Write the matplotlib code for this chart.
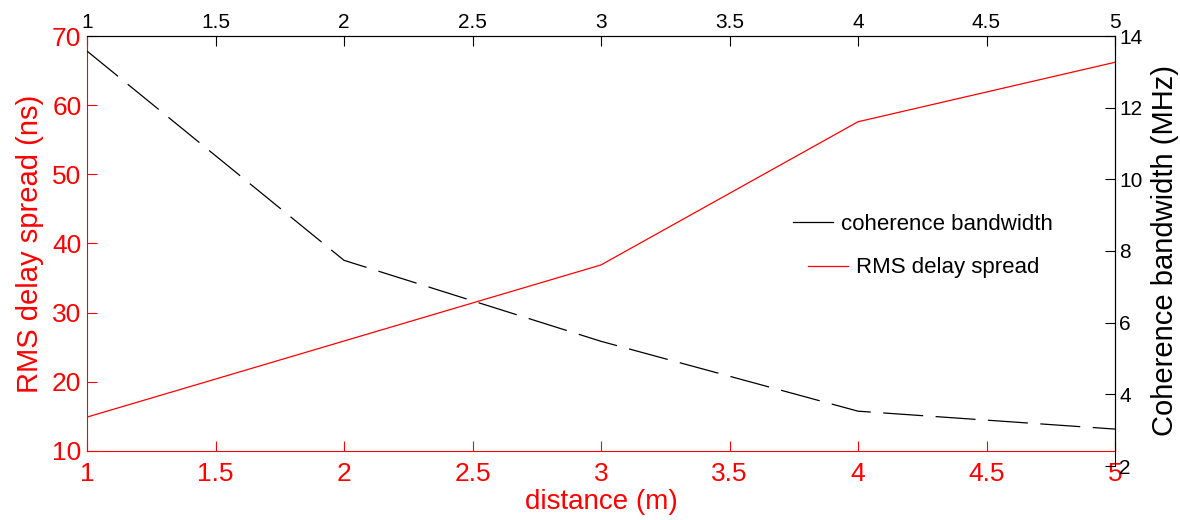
import matplotlib
matplotlib.use('Agg')
import matplotlib.pyplot as plt
import numpy as np

matplotlib.rcParams['font.family'] = ['Liberation Sans', 'DejaVu Sans']

# measured values per distance
distance      = [1, 2, 3, 4, 5]
rms_delay     = [14.9, 25.9, 36.9, 57.6, 66.2]   # ns
coherence_bw  = [13.58, 7.74, 5.48, 3.53, 3.03]  # MHz

x_ticks     = [1, 1.5, 2, 2.5, 3, 3.5, 4, 4.5, 5]
x_labels    = ['1', '1.5', '2', '2.5', '3', '3.5', '4', '4.5', '5']
left_ticks  = [10, 20, 30, 40, 50, 60, 70]
right_ticks = [2, 4, 6, 8, 10, 12, 14]


def plot_figure():
    fig = plt.figure(figsize=(11.8, 5.2), dpi=100)
    ax = fig.add_axes([87/1180, 69/520, 1028/1180, 415/520])
    # right-hand axes runs a little lower than the left one
    ax2 = fig.add_axes([87/1180, 54/520, 1028/1180, 430/520], sharex=ax)
    ax2.patch.set_visible(False)

    red = '#ff0000'

    l_rms, = ax.plot(distance, rms_delay, color=red, lw=0.9)
    l_coh, = ax2.plot(distance, coherence_bw, color='black', lw=0.9)
    l_coh.set_dashes((32, 10))

    ax.set_xlim(1, 5)
    ax.set_ylim(10, 70)
    ax2.set_ylim(2, 14)
    ax.set_xticks(x_ticks)
    ax.set_xticklabels(x_labels)
    ax.set_yticks(left_ticks)
    ax2.set_yticks(right_ticks)

    ax.tick_params(axis='both', direction='in', length=7, width=0.8,
                   colors=red, labelsize=19, pad=4)
    ax.tick_params(axis='x', pad=8)

    ax2.xaxis.set_visible(False)
    ax2.yaxis.tick_right()
    ax2.yaxis.set_label_position('right')
    ax2.tick_params(axis='y', direction='in', length=7, width=0.8,
                    colors='black', labelsize=15, pad=3)

    top = ax.secondary_xaxis('top')
    top.set_xticks(x_ticks)
    top.set_xticklabels(x_labels)
    top.tick_params(direction='in', length=7, width=0.8, colors='black',
                    labelsize=15, pad=3)
    top.spines['top'].set_color('black')

    for s in ['left', 'bottom']:
        ax.spines[s].set_color(red)
    for s in ['top', 'right']:
        ax.spines[s].set_color('black')
    for s in ['left', 'bottom', 'top']:
        ax2.spines[s].set_visible(False)
    ax2.spines['right'].set_color('black')

    ax.set_xlabel('distance (m)', color=red, fontsize=20, labelpad=2)
    ax.set_ylabel('RMS delay spread (ns)', color=red, fontsize=21, labelpad=6)
    ax2.set_ylabel('Coherence bandwidth (MHz)', color='black', fontsize=21,
                   labelpad=6)

    leg1 = fig.legend([l_coh], ['coherence bandwidth'], loc='center left',
                      bbox_to_anchor=(793/1180, 1 - 224/520), frameon=False,
                      fontsize=16, handlelength=1.8, handletextpad=0.35,
                      borderpad=0, borderaxespad=0)
    leg1.get_lines()[0].set_linestyle('-')
    fig.legend([l_rms], ['RMS delay spread'], loc='center left',
               bbox_to_anchor=(808/1180, 1 - 268/520), frameon=False,
               fontsize=16, handlelength=1.8, handletextpad=0.35,
               borderpad=0, borderaxespad=0)

    fig.savefig('out.png', dpi=100)


def main():
    plot_figure()

if __name__ == '__main__':
    main()
